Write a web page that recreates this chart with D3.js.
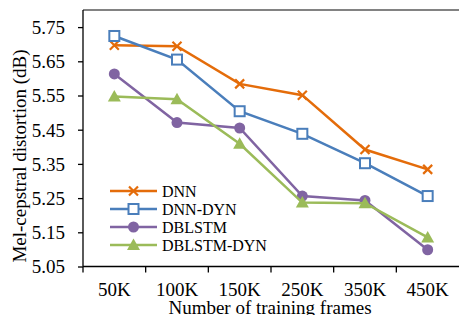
<!doctype html>
<html lang="en">
<head>
<meta charset="utf-8">
<title>Mel-cepstral distortion</title>
<style>
  body { margin: 0; background: #fff; }
  svg text { font-family: "Liberation Serif", "Times New Roman", serif; fill: #000; }
</style>
</head>
<body>
<svg id="chart" width="459" height="315"></svg>
<script src="https://cdnjs.cloudflare.com/ajax/libs/d3/7.8.5/d3.min.js"></script>
<script>
// data
var categories = ["50K", "100K", "150K", "250K", "350K", "450K"];
var seriesNames = ["DNN", "DNN-DYN", "DBLSTM", "DBLSTM-DYN"];
var dnn       = [5.697, 5.694, 5.584, 5.551, 5.392, 5.334];
var dnnDyn    = [5.724, 5.655, 5.504, 5.438, 5.352, 5.256];
var dblstm    = [5.613, 5.471, 5.455, 5.256, 5.243, 5.099];
var dblstmDyn = [5.547, 5.539, 5.409, 5.237, 5.235, 5.135];
var yTicks = [5.05, 5.15, 5.25, 5.35, 5.45, 5.55, 5.65, 5.75];

var series = [
  { name: seriesNames[0], values: dnn,       color: "#E46C0A", marker: "x" },
  { name: seriesNames[1], values: dnnDyn,    color: "#4A7EBB", marker: "square" },
  { name: seriesNames[2], values: dblstm,    color: "#8064A2", marker: "circle" },
  { name: seriesNames[3], values: dblstmDyn, color: "#9BBB59", marker: "triangle" }
];

var svg = d3.select("#chart");
var pLeft = 83, pRight = 459, pTop = 10, pBottom = 266.5;

var x = d3.scaleBand().domain(categories).range([pLeft, pRight]);
var y = d3.scaleLinear().domain([5.05, 5.80]).range([pBottom, pTop]);

// top border
svg.append("line")
  .attr("x1", pLeft).attr("x2", pRight)
  .attr("y1", pTop).attr("y2", pTop)
  .attr("stroke", "#595959").attr("stroke-width", 1.5);

// y axis
var yAxis = svg.append("g")
  .attr("transform", "translate(" + pLeft + ",0)")
  .call(d3.axisLeft(y).tickValues(yTicks).tickFormat(d3.format(".2f")).tickSize(5).tickPadding(13));
yAxis.attr("font-family", null).attr("font-size", null);
yAxis.select(".domain").attr("stroke", "#000").attr("stroke-width", 1.3)
  .attr("d", "M0," + pTop + "V" + pBottom);
yAxis.selectAll(".tick line").attr("stroke", "#000").attr("stroke-width", 1.3);
yAxis.selectAll("text").style("font-size", "19px").attr("dy", "0.34em");

// x axis, ticks between categories
var xAxis = svg.append("g").attr("transform", "translate(0," + pBottom + ")");
xAxis.append("line")
  .attr("x1", pLeft).attr("x2", pRight)
  .attr("stroke", "#000").attr("stroke-width", 1.3);
xAxis.selectAll(".tk")
  .data(categories)
  .enter().append("line")
  .attr("x1", function(d) { return x(d); })
  .attr("x2", function(d) { return x(d); })
  .attr("y1", 0).attr("y2", 6)
  .attr("stroke", "#000").attr("stroke-width", 1.3);
xAxis.selectAll(".lbl")
  .data(categories)
  .enter().append("text")
  .attr("x", function(d) { return x(d) + x.bandwidth() / 2; })
  .attr("y", 29.5)
  .attr("text-anchor", "middle")
  .style("font-size", "19px")
  .text(function(d) { return d; });

// axis titles
svg.append("text")
  .attr("x", 270).attr("y", 314)
  .attr("text-anchor", "middle")
  .style("font-size", "19px")
  .text("Number of training frames");
svg.append("text")
  .attr("transform", "translate(26,156) rotate(-90)")
  .attr("text-anchor", "middle")
  .style("font-size", "19px")
  .text("Mel-cepstral distortion (dB)");

function drawMarker(g, type, color) {
  if (type === "x") {
    g.append("path").attr("d", "M-4.5,-4.5L4.5,4.5M-4.5,4.5L4.5,-4.5")
      .attr("stroke", color).attr("stroke-width", 2.2).attr("fill", "none");
  } else if (type === "square") {
    g.append("rect").attr("x", -5).attr("y", -5).attr("width", 10).attr("height", 10)
      .attr("fill", "#fff").attr("stroke", color).attr("stroke-width", 2);
  } else if (type === "circle") {
    g.append("circle").attr("r", 5.5).attr("fill", color);
  } else {
    g.append("path").attr("d", "M0,-6.5L6.5,5L-6.5,5Z").attr("fill", color);
  }
}

var line = d3.line()
  .x(function(d, i) { return x(categories[i]) + x.bandwidth() / 2; })
  .y(function(d) { return y(d); });

series.forEach(function(s) {
  svg.append("path")
    .attr("d", line(s.values))
    .attr("fill", "none")
    .attr("stroke", s.color)
    .attr("stroke-width", 2.5);
  s.values.forEach(function(v, i) {
    var g = svg.append("g")
      .attr("transform", "translate(" + (x(categories[i]) + x.bandwidth() / 2) + "," + y(v) + ")");
    drawMarker(g, s.marker, s.color);
  });
});

// legend
var legend = svg.append("g").attr("transform", "translate(110,191)");
series.forEach(function(s, i) {
  var row = legend.append("g").attr("transform", "translate(0," + i * 18 + ")");
  row.append("line").attr("x1", 0).attr("x2", 47)
    .attr("stroke", s.color).attr("stroke-width", 2.5);
  var m = row.append("g").attr("transform", "translate(23.5,0)");
  drawMarker(m, s.marker, s.color);
  row.append("text").attr("x", 52).attr("y", 0).attr("dy", "0.35em")
    .style("font-size", "16px").text(s.name);
});
</script>
</body>
</html>
